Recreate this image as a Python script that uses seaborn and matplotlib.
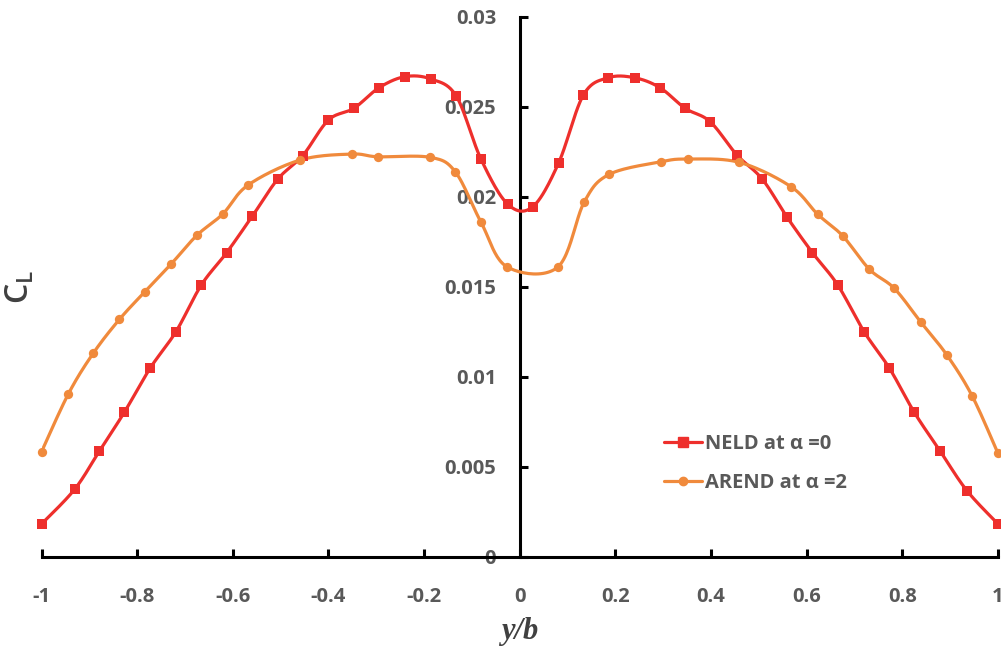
import numpy as np
import pandas as pd
import matplotlib
matplotlib.use("Agg")
import matplotlib.pyplot as plt
from matplotlib.lines import Line2D
import seaborn as sns

# Spanwise lift distribution, y/b against sectional C_L
neld_x = [-1.0, -0.931, -0.879, -0.827, -0.773, -0.719, -0.666, -0.613, -0.559, -0.506,
          -0.454, -0.400, -0.347, -0.294, -0.240, -0.186, -0.133, -0.081, -0.025,
          0.027, 0.081, 0.133, 0.185, 0.240, 0.293, 0.346, 0.398, 0.454, 0.507,
          0.559, 0.612, 0.665, 0.720, 0.773, 0.825, 0.879, 0.935, 1.0]
neld_cl = [0.00182, 0.00374, 0.00587, 0.00802, 0.01047, 0.01250, 0.01509, 0.01689, 0.01893, 0.02098,
           0.02228, 0.02426, 0.02491, 0.02606, 0.02667, 0.02654, 0.02560, 0.02208, 0.01958,
           0.01944, 0.02186, 0.02565, 0.02661, 0.02661, 0.02606, 0.02491, 0.02417, 0.02232, 0.02098,
           0.01886, 0.01689, 0.01509, 0.01250, 0.01047, 0.00802, 0.00587, 0.00367, 0.00182]

arend_x = [-1.0, -0.944, -0.892, -0.837, -0.784, -0.729, -0.675, -0.621, -0.568, -0.459,
           -0.351, -0.297, -0.188, -0.135, -0.081, -0.027, 0.079, 0.135, 0.187, 0.295,
           0.351, 0.459, 0.567, 0.623, 0.675, 0.731, 0.783, 0.839, 0.893, 0.946, 1.0]
arend_cl = [0.00583, 0.00904, 0.01130, 0.01319, 0.01472, 0.01626, 0.01786, 0.01904, 0.02065, 0.02204,
            0.02237, 0.02222, 0.02219, 0.02139, 0.01858, 0.01611, 0.01608, 0.01972, 0.02124, 0.02194,
            0.02209, 0.02191, 0.02056, 0.01902, 0.01783, 0.01597, 0.01491, 0.01302, 0.01121, 0.00893, 0.00574]

series_names = ["NELD at α =0", "AREND at α =2"]
x_ticks = [-1, -0.8, -0.6, -0.4, -0.2, 0, 0.2, 0.4, 0.6, 0.8, 1]
x_tick_labels = ["-1", "-0.8", "-0.6", "-0.4", "-0.2", "0", "0.2", "0.4", "0.6", "0.8", "1"]
y_ticks = [0, 0.005, 0.01, 0.015, 0.02, 0.025, 0.03]
y_tick_labels = ["0", "0.005", "0.01", "0.015", "0.02", "0.025", "0.03"]

RED = "#EE2F2C"
ORANGE = "#F08A3C"
GREY = "#595959"

sns.set_theme(style="white")
plt.rcParams["font.family"] = ["Open Sans", "DejaVu Sans"]


def smooth_curve(xs, ys, sx=478.0, sy=18000.0, n=24):
    """Piecewise cubic Bezier through the points (spreadsheet-style smoothing)."""
    P = np.column_stack([np.asarray(xs) * sx, np.asarray(ys) * sy])
    P = np.vstack([P[0], P, P[-1]])
    t = np.linspace(0, 1, n)[:, None]
    out = []
    for i in range(1, len(P) - 2):
        p0, p1, p2, p3 = P[i - 1], P[i], P[i + 1], P[i + 2]
        c1 = p1 + (p2 - p0) / 6.0
        c2 = p2 - (p3 - p1) / 6.0
        seg = ((1 - t) ** 3) * p1 + 3 * ((1 - t) ** 2) * t * c1 + 3 * (1 - t) * t ** 2 * c2 + t ** 3 * p2
        out.append(seg if i == 1 else seg[1:])
    out = np.vstack(out)
    return out[:, 0] / sx, out[:, 1] / sy


fig = plt.figure(figsize=(10.01, 6.5), dpi=100)
ax = fig.add_axes([0.0415, 0.1435, 0.9555, 0.8308])

for xs, ys, color, marker, ms in [
    (neld_x, neld_cl, RED, "s", 62),
    (arend_x, arend_cl, ORANGE, "o", 45),
]:
    cx, cy = smooth_curve(xs, ys)
    sns.lineplot(x=cx, y=cy, ax=ax, color=color, lw=2.3, sort=False,
                 estimator=None, legend=False, zorder=3)
    sns.scatterplot(x=xs, y=ys, ax=ax, color=color, marker=marker, s=ms,
                    linewidth=0, legend=False, zorder=4, clip_on=False)

ax.set_xlim(-1, 1)
ax.set_ylim(0, 0.03)

# axes crossing at the origin
ax.spines["left"].set_position(("data", 0))
ax.spines["bottom"].set_position(("data", 0))
for side in ["top", "right"]:
    ax.spines[side].set_visible(False)
for side in ["left", "bottom"]:
    ax.spines[side].set_color("black")
    ax.spines[side].set_linewidth(2.2)
    ax.spines[side].set_zorder(2)

ax.set_xticks(x_ticks)
ax.set_xticklabels(x_tick_labels)
ax.set_yticks(y_ticks)
ax.set_yticklabels(y_tick_labels)
ax.tick_params(axis="both", direction="in", length=6, width=2.2, color="black",
               labelsize=14.5, labelcolor=GREY)
ax.tick_params(axis="x", pad=22, bottom=True)
ax.tick_params(axis="y", pad=17, left=True)
for lab in ax.get_xticklabels() + ax.get_yticklabels():
    lab.set_fontweight("bold")

ax.set_xlabel("")
ax.set_ylabel("")
fig.text(0.519, 0.028, "y/b", ha="center", va="center", fontsize=22,
         fontweight="bold", fontstyle="italic", family="Liberation Serif", color="#404040")
fig.text(0.020, 0.558, r"C$_\mathregular{L}$", ha="center", va="center", rotation=90,
         fontsize=23, fontweight="semibold", color="#404040")

handles = [
    Line2D([], [], color=RED, lw=2.3, marker="s", markersize=7),
    Line2D([], [], color=ORANGE, lw=2.3, marker="o", markersize=6),
]
leg = ax.legend(handles, series_names, loc="upper left", bbox_to_anchor=(0.645, 0.36),
                bbox_transform=fig.transFigure, frameon=False, handlelength=1.9,
                handletextpad=0.15, labelspacing=0.95, fontsize=14.5)
for t in leg.get_texts():
    t.set_color(GREY)
    t.set_fontweight("bold")

fig.savefig("out.png", dpi=100)
